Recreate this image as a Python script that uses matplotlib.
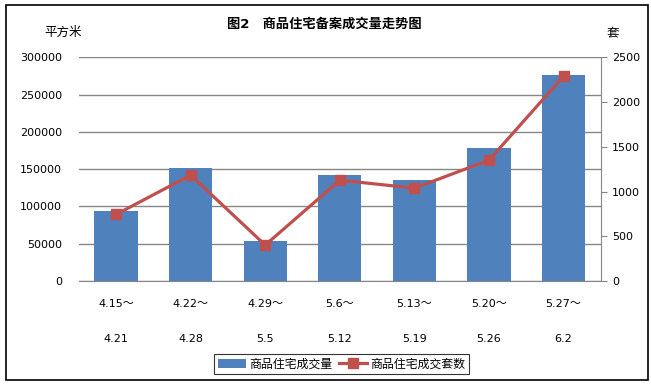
import matplotlib.pyplot as plt
import numpy as np
from matplotlib.patches import Rectangle

plt.rcParams['font.family'] = ['DejaVu Sans', 'Noto Sans CJK SC']

weeks_start = ['4.15～', '4.22～', '4.29～', '5.6～', '5.13～', '5.20～', '5.27～']
weeks_end = ['4.21', '4.28', '5.5', '5.12', '5.19', '5.26', '6.2']
area = [94500, 151000, 54000, 142000, 135500, 178000, 276000]
units = [744, 1183, 402, 1127, 1038, 1350, 2288]

fig = plt.figure(figsize=(6.51, 3.84), dpi=100)
fig.patches.append(Rectangle((6/651, 4/384), 642/651, 375/384, transform=fig.transFigure,
                             fill=False, edgecolor='black', linewidth=1.2))

ax = fig.add_axes([0.121, 0.268, 0.802, 0.583])
x = np.arange(len(area))
ax.bar(x, area, width=0.58, color='#4F81BD', zorder=2, label='商品住宅成交量')
ax.set_ylim(0, 300000)
ax.set_yticks(np.arange(0, 300001, 50000))
ax.set_xlim(-0.5, len(area) - 0.5)
ax.grid(axis='y', color='#868686', linewidth=1, zorder=0)
ax.set_xticks(x)
ax.set_xticklabels([a + '\n\n' + b for a, b in zip(weeks_start, weeks_end)], linespacing=1.9)
ax.tick_params(axis='x', length=0, pad=13, labelsize=8)
ax.tick_params(axis='y', length=0, pad=12, labelsize=8)
for s in ['top', 'left', 'right']:
    ax.spines[s].set_visible(False)
ax.spines['bottom'].set_color('#868686')

ax2 = ax.twinx()
ax2.plot(x, units, color='#C0504D', linewidth=2.3, marker='s', markersize=7,
         zorder=3, label='商品住宅成交套数')
ax2.set_ylim(0, 2500)
ax2.set_yticks(np.arange(0, 2501, 500))
ax2.tick_params(axis='y', length=4, color='#868686', pad=4, labelsize=8)
for s in ['top', 'left', 'bottom']:
    ax2.spines[s].set_visible(False)
ax2.spines['right'].set_color('#868686')

fig.text(0.498, 0.937, '图2　商品住宅备案成交量走势图', ha='center', va='center',
         fontsize=9.5, fontweight='bold')
fig.text(0.097, 0.915, '平方米', ha='center', va='center', fontsize=9)
fig.text(0.942, 0.915, '套', ha='center', va='center', fontsize=9)

h1, l1 = ax.get_legend_handles_labels()
h2, l2 = ax2.get_legend_handles_labels()
leg = fig.legend(h1 + h2, l1 + l2, loc='center', bbox_to_anchor=(0.525, 0.052), ncol=2,
                 fontsize=8.6, frameon=True, fancybox=False, edgecolor='black',
                 handlelength=2.3, handletextpad=0.3, columnspacing=0.6,
                 borderpad=0.3)
leg.get_frame().set_linewidth(0.8)

fig.savefig('out.png', dpi=100)
